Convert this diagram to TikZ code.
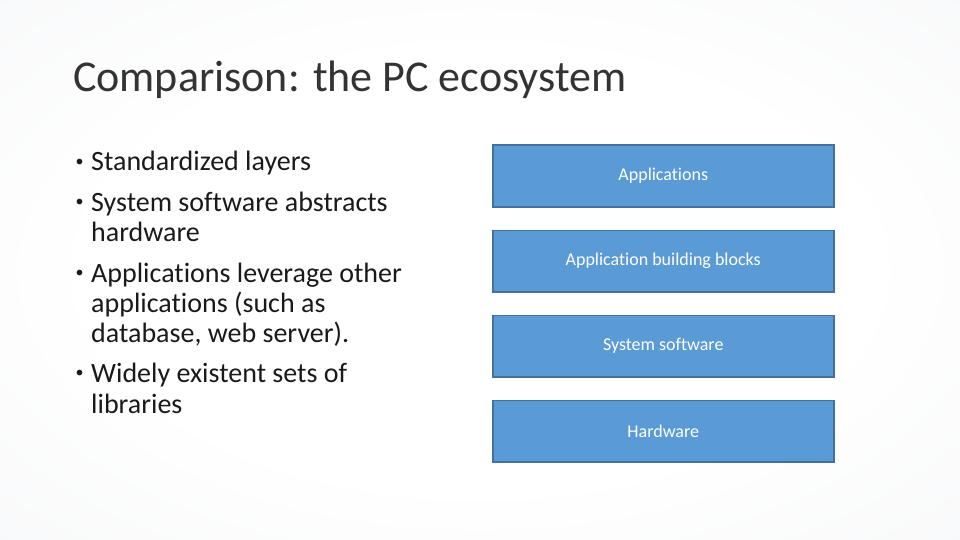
\documentclass[tikz,border=0pt]{standalone}
\usepackage{fontspec}
\setmainfont{Carlito}[Ligatures=NoCommon]
\definecolor{boxfill}{HTML}{5B9BD5}
\definecolor{boxline}{HTML}{41719C}
\definecolor{bgmid}{HTML}{F3F4F6}
\definecolor{bgedge}{HTML}{E6E8EB}
\definecolor{txt}{HTML}{1A1A1A}
\definecolor{ttltxt}{HTML}{333333}
\pgfdeclareradialshading{bgshade}{\pgfpoint{0bp}{0bp}}{color(0bp)=(white); color(20bp)=(white); color(50bp)=(bgmid); color(71bp)=(bgedge); color(100bp)=(bgedge)}
\begin{document}
\begin{tikzpicture}[x=1pt,y=-1pt,
  layer/.style={draw=boxline,fill=boxfill,line width=1.5pt,minimum width=341pt,minimum height=61.5pt,inner sep=0pt,text=white,font=\fontsize{18}{22}\selectfont,anchor=north west},
  bul/.style={anchor=base west,inner sep=0pt,text=txt,font=\fontsize{28}{34}\selectfont},
  dot/.style={anchor=base west,inner sep=0pt,text=txt,font=\fontsize{16}{19}\selectfont},
  ttl/.style={anchor=base west,inner sep=0pt,text=ttltxt,font=\fontsize{44}{53}\selectfont}]
\shade[shading=bgshade] (0,0) rectangle (960,540);
\useasboundingbox (0,0) rectangle (960,540);
\node[ttl] (title) at (73,92) {Comparison: the PC ecosystem};
\node[dot] (b1) at (75.5,171) {\raisebox{4.5pt}{•}};
\node[bul] (l1) at (91,171) {Standardized layers};
\node[dot] (b2) at (75.5,211) {\raisebox{4.5pt}{•}};
\node[bul] (l2) at (91,211) {System software abstracts};
\node[bul] (l3) at (91,241) {hardware};
\node[dot] (b3) at (75.5,282) {\raisebox{4.5pt}{•}};
\node[bul] (l4) at (91,282) {Applications leverage other};
\node[bul] (l5) at (91,312) {applications (such as};
\node[bul] (l6) at (91,342) {database, web server).};
\node[dot] (b4) at (75.5,382) {\raisebox{4.5pt}{•}};
\node[bul] (l7) at (91,382) {Widely existent sets of};
\node[bul] (l8) at (91,413) {libraries};
\node[layer] (apps) at (492,144.5) {Applications};
\node[layer] (abb) at (492,229.5) {Application building blocks};
\node[layer] (sys) at (492,314.5) {System software};
\node[layer] (hw) at (492,399.5) {Hardware};
\end{tikzpicture}
\end{document}
